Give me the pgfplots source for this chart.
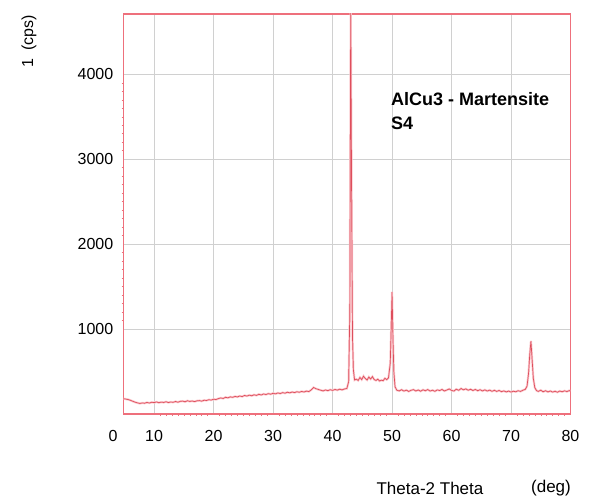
\documentclass[border=0pt]{standalone}
\usepackage{fontspec}
\setmainfont{Liberation Sans}
\usepackage{pgfplots}
\usepackage{pgfplotstable}
\pgfplotsset{compat=1.18}

\definecolor{xrdline}{RGB}{222,78,92}
\definecolor{xrdhalo}{RGB}{250,200,205}
\definecolor{framered}{RGB}{238,112,124}
\definecolor{gridgray}{RGB}{208,208,208}

% measured pattern, Theta-2Theta (deg) vs intensity (cps)
\pgfplotstableread{
x y
4.85 180
5.2 176
5.6 171
6.0 162
6.4 150
6.8 139
7.2 131
7.6 124
8.0 130
8.4 127
8.8 136
9.2 129
9.6 138
10.0 134
10.4 142
10.8 133
11.2 140
11.6 136
12.0 144
12.4 135
12.8 141
13.2 138
13.6 147
14.0 139
14.4 149
14.8 152
15.2 144
15.6 156
16.0 148
16.4 153
16.8 146
17.2 155
17.6 158
18.0 151
18.4 162
18.8 159
19.2 168
19.6 164
20.0 174
20.4 170
20.8 181
21.2 189
21.6 183
22.0 197
22.4 190
22.8 202
23.2 196
23.6 207
24.0 201
24.4 212
24.8 205
25.2 218
25.6 211
26.0 222
26.4 215
26.8 226
27.2 219
27.6 232
28.0 224
28.4 236
28.8 229
29.2 240
29.6 233
30.0 244
30.4 237
30.8 248
31.2 241
31.6 252
32.0 245
32.4 256
32.8 249
33.2 259
33.6 252
34.0 262
34.4 256
34.8 266
35.2 259
35.6 270
36.0 264
36.4 283
36.8 312
37.2 298
37.6 289
38.0 280
38.4 272
38.8 283
39.2 275
39.6 286
40.0 278
40.4 289
40.8 281
41.2 292
41.6 284
42.0 295
42.4 300
42.7 380
42.9 1200
43.05 4760
43.2 2600
43.35 900
43.5 520
43.7 400
44.0 410
44.3 395
44.6 430
44.9 405
45.2 445
45.5 418
45.8 400
46.1 435
46.4 412
46.7 440
47.0 405
47.3 395
47.6 410
47.9 388
48.2 398
48.5 392
48.8 420
49.1 405
49.4 425
49.7 600
49.85 1000
50.0 1437
50.15 900
50.3 500
50.5 320
50.8 280
51.2 272
51.6 286
52.0 270
52.4 281
52.8 266
53.2 279
53.6 287
54.0 271
54.4 283
54.8 268
55.2 285
55.6 274
56.0 288
56.4 270
56.8 280
57.2 267
57.6 284
58.0 276
58.4 289
58.8 271
59.2 282
59.6 295
60.0 278
60.4 270
60.8 292
61.2 279
61.6 300
62.0 285
62.4 296
62.8 280
63.2 291
63.6 277
64.0 289
64.4 274
64.8 286
65.2 272
65.6 284
66.0 270
66.4 281
66.8 267
67.2 279
67.6 266
68.0 277
68.4 263
68.8 272
69.2 260
69.6 270
70.0 258
70.4 268
70.8 262
71.2 274
71.6 266
72.0 280
72.4 290
72.7 330
72.95 480
73.15 700
73.35 860
73.55 640
73.75 420
74.0 310
74.3 275
74.6 266
75.0 280
75.4 262
75.8 274
76.2 260
76.6 271
77.0 258
77.4 268
77.8 256
78.2 270
78.6 262
79.0 273
79.4 264
79.8 276
80.0 268
}\xrddata

\begin{document}
\fontsize{16}{19}\selectfont
\begin{tikzpicture}[x=1pt,y=1pt]
\path[use as bounding box] (0,0) rectangle (592,501);
\begin{axis}[
    at={(123.5pt,87pt)}, anchor=south west,
    scale only axis,
    width=447pt, height=400pt,
    xmin=4.85, xmax=80,
    ymin=0, ymax=4710,
    xtick={10,20,...,80},
    ytick={1000,2000,3000,4000},
    minor x tick num=9,
    minor y tick num=9,
    xtick pos=left, ytick pos=left,
    tick align=outside,
    major tick length=0pt,
    minor tick length=2pt,
    tick style={framered, line width=0.5pt},
    grid=major,
    major grid style={gridgray, line width=0.8pt},
    axis line style={framered, line width=1.2pt},
    /pgf/number format/assume math mode=true,
    /pgf/number format/1000 sep={},
    xticklabel style={font=\fontsize{16}{19}\selectfont, inner sep=0pt, yshift=-16pt},
    yticklabel style={font=\fontsize{16}{19}\selectfont, inner sep=0pt, xshift=-10pt},
]
\addplot[xrdhalo, line width=2.2pt, forget plot] table[x=x, y=y] {\xrddata};
\addplot[xrdline, line width=0.7pt] table[x=x, y=y] {\xrddata};
\node[anchor=west, inner sep=0pt, font=\bfseries\fontsize{18}{21}\selectfont] at (axis cs:49.8,3709) {AlCu3 - Martensite};
\node[anchor=west, inner sep=0pt, font=\bfseries\fontsize{18}{21}\selectfont] at (axis cs:49.8,3426) {S4};
\end{axis}
\node[inner sep=0pt] at (113,65) {0};
\node[rotate=90, inner sep=0pt] at (29,459.5) {1\enspace(cps)};
\node[inner sep=0pt, font=\fontsize{17}{20}\selectfont] at (430,13) {Theta-2 Theta};
\node[inner sep=0pt, font=\fontsize{17}{20}\selectfont] at (551,13) {(deg)};
\end{tikzpicture}
\end{document}
